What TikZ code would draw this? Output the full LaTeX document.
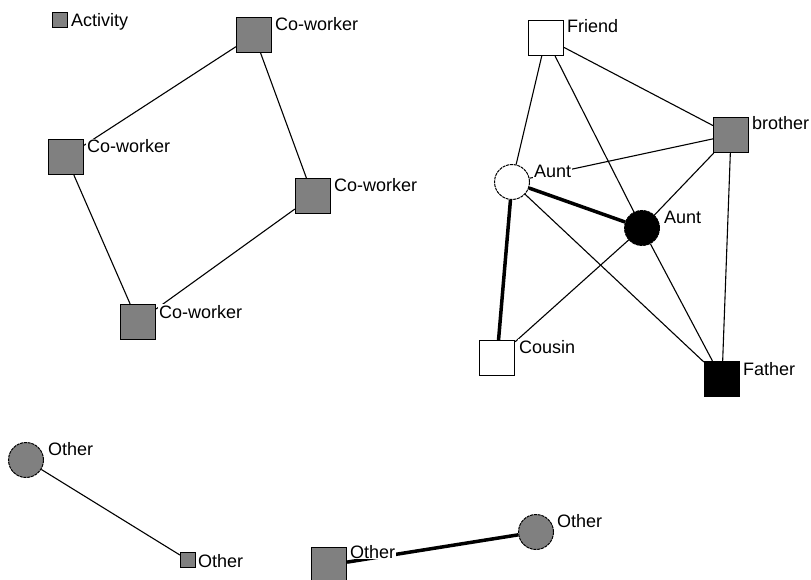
\documentclass[tikz,border=0pt]{standalone}
\usepackage{fontspec}
\setmainfont{Liberation Sans}
\usetikzlibrary{backgrounds}
\definecolor{nodegray}{RGB}{128,128,128}
\tikzset{
  sq/.style={draw=black, line width=1.2pt, rectangle, minimum size=35pt, inner sep=0pt, fill=nodegray},
  circ/.style={draw=black, line width=1pt, dash pattern=on 3pt off 0.8pt, circle, minimum size=35pt, inner sep=0pt, fill=nodegray},
  lab/.style={anchor=base west, fill=white, inner sep=1pt, font=\fontsize{18}{20}\selectfont},
  edge/.style={line width=1.1pt, black},
  heavy/.style={line width=3.5pt, black}
}
\begin{document}
\begin{tikzpicture}[x=1pt,y=-1pt]
\useasboundingbox (0,0) rectangle (811,580);
% legend
\node[sq, minimum size=15pt] (leg) at (60,20) {};
\node[lab] (legl) at (70,27) {Activity};
% co-workers
\node[sq] (cw1) at (254,35) {};
\node[sq] (cw2) at (66,157) {};
\node[sq] (cw3) at (313,196) {};
\node[sq] (cw4) at (138,322) {};
\node[lab] (cw1l) at (274,31) {Co-worker};
\node[lab] (cw2l) at (86,153) {Co-worker};
\node[lab] (cw3l) at (333,192) {Co-worker};
\node[lab] (cw4l) at (158,318) {Co-worker};
% family
\node[sq, fill=white] (friend) at (546,38) {};
\node[sq] (brother) at (731,135) {};
\node[circ, fill=white] (auntw) at (512,182) {};
\node[circ, fill=black] (auntb) at (642,228) {};
\node[sq, fill=white] (cousin) at (497,358) {};
\node[sq, fill=black] (father) at (722,379) {};
\node[lab] (friendl) at (566,33) {Friend};
\node[lab] (brotherl) at (751,130) {brother};
\node[lab] (auntwl) at (533,178) {Aunt};
\node[lab] (auntbl) at (663,223) {Aunt};
\node[lab] (cousinl) at (518,353) {Cousin};
\node[lab] (fatherl) at (742,375) {Father};
% others
\node[circ] (o1) at (26,460) {};
\node[sq, minimum size=15pt] (o2) at (188,560) {};
\node[sq] (o3) at (329,565) {};
\node[circ] (o4) at (536,532) {};
\node[lab] (o1l) at (47,455) {Other};
\node[lab] (o2l) at (197,567) {Other};
\node[lab] (o3l) at (349,558) {Other};
\node[lab] (o4l) at (556,527) {Other};
\begin{pgfonlayer}{background}
\fill[white] (0,0) rectangle (811,580);
\draw[edge] (cw1) -- (cw2);
\draw[edge] (cw1) -- (cw3);
\draw[edge] (cw2) -- (cw4);
\draw[edge] (cw3) -- (cw4);
\draw[edge] (friend) -- (auntw);
\draw[edge] (friend) -- (auntb);
\draw[edge] (friend) -- (brother);
\draw[edge] (brother) -- (auntw);
\draw[edge] (brother) -- (auntb);
\draw[edge] (brother) -- (father);
\draw[heavy] (auntw) -- (auntb);
\draw[heavy] (auntw) -- (cousin);
\draw[edge] (auntw) -- (father);
\draw[edge] (auntb) -- (cousin);
\draw[edge] (auntb) -- (father);
\draw[edge] (o1) -- (o2);
\draw[heavy] (o3) -- (o4);
\end{pgfonlayer}
\end{tikzpicture}
\end{document}
